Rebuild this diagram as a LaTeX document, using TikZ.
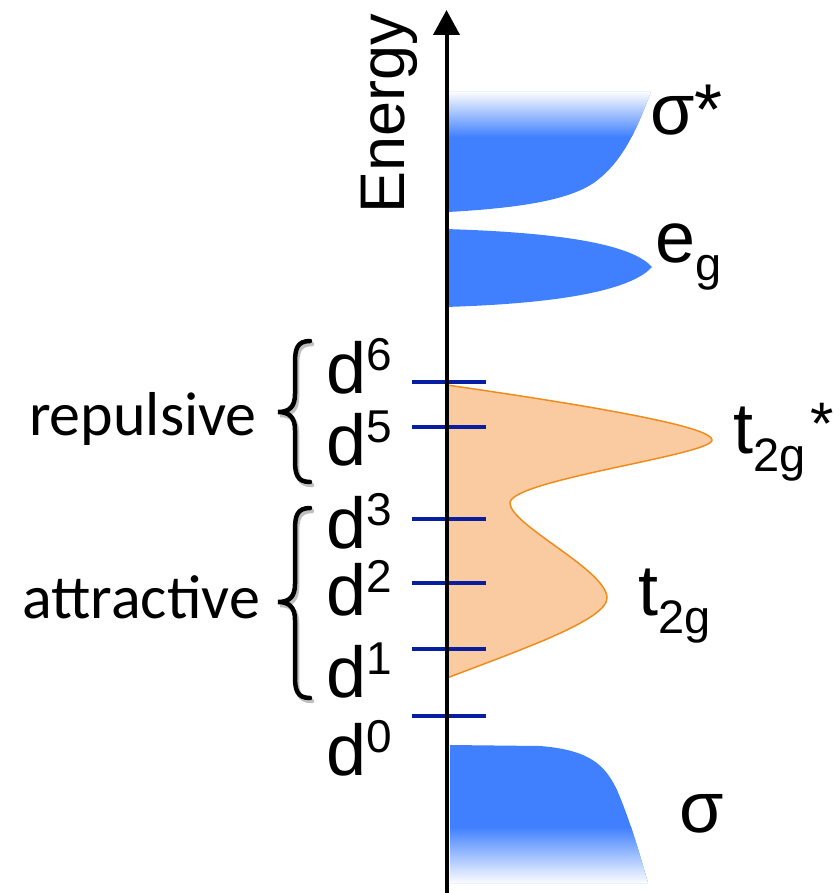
\documentclass[tikz,border=0pt]{standalone}
\usepackage{fontspec}
\setmainfont{Liberation Sans}
\newfontfamily\calibfont{Carlito}
\usetikzlibrary{arrows.meta}
\definecolor{bandblue}{RGB}{64,128,255}
\definecolor{tickblue}{RGB}{8,30,160}
\definecolor{peach}{RGB}{250,203,160}
\definecolor{orangeline}{RGB}{240,140,30}
\newcommand{\suplab}[1]{\raisebox{23pt}{\fontsize{46}{46}\selectfont #1}}
\newcommand{\sublab}[1]{\raisebox{-18pt}{\fontsize{47}{47}\selectfont #1}}
\tikzset{
  lbl/.style={inner sep=0pt, anchor=base west, font=\fontsize{72}{72}\selectfont},
  sidelbl/.style={inner sep=0pt, anchor=base east, font=\calibfont\fontsize{62}{62}\selectfont},
  tickline/.style={draw=tickblue, line width=4pt},
  bracepath/.style={line width=4.5pt, line cap=round},
  braceshadow/.style={line width=4.5pt, line cap=round, draw=black!25},
}
\begin{document}
\begin{tikzpicture}[x=1pt,y=-1pt]
\useasboundingbox (0,0) rectangle (839,893);

% sigma* band
\begin{scope}
  \clip (448,92) -- (651,92) .. controls (638,125) and (625,160) .. (595,182)
        .. controls (570,200) and (520,208) .. (448,212) -- cycle;
  \fill[bandblue] (440,80) rectangle (700,220);
  \shade[top color=white, bottom color=bandblue] (440,91) rectangle (700,137);
\end{scope}

% e_g band
\fill[bandblue] (445,229) .. controls (580,233) and (635,248) .. (652,267)
      .. controls (635,286) and (580,303) .. (445,307) -- cycle;

% sigma band
\begin{scope}
  \clip (450,745) -- (540,746) .. controls (590,750) and (605,765) .. (617,790)
        .. controls (630,820) and (640,855) .. (648,883) -- (450,883) -- cycle;
  \fill[bandblue] (440,740) rectangle (700,890);
  \shade[top color=bandblue, bottom color=white] (440,827) rectangle (700,884);
\end{scope}

% t2g band
\filldraw[fill=peach, draw=orangeline, line width=1.5pt]
  (447,385) .. controls (620,410) and (712,428) .. (712,440)
  .. controls (712,455) and (510,480) .. (510,503)
  .. controls (510,525) and (607,570) .. (607,598)
  .. controls (607,620) and (520,650) .. (447,678) -- cycle;

% ticks
\foreach \yy in {381.7,426.7,519,583.3,649,715.7}
  \draw[tickline] (412,\yy) -- (486,\yy);

% axis
\coordinate (axbot) at (446.5,893);
\coordinate (axtop) at (446.5,10);
\draw[line width=4pt, -{Triangle[width=26pt,length=25pt]}] (axbot) -- (axtop);

% Energy label
\node[inner sep=0pt, anchor=base west, rotate=90, font=\fontsize{63}{63}\selectfont] (energy) at (404,214) {Energy};

% d labels
\node[lbl] (d6) at (326,393) {d\suplab{6}};
\node[lbl] (d5) at (326,465) {d\suplab{5}};
\node[lbl] (d3) at (326,548) {d\suplab{3}};
\node[lbl] (d2) at (326,615) {d\suplab{2}};
\node[lbl] (d1) at (326,697) {d\suplab{1}};
\node[lbl] (d0) at (326,775) {d\suplab{0}};

% band labels
\node[lbl] (sigstar) at (650,135) {σ*};
\node[lbl] (eg) at (655,262) {e\sublab{g}};
\node[lbl] (t2gstar) at (733,453) {t\sublab{2g}};
\node[inner sep=0pt, anchor=base west, font=\fontsize{60}{60}\selectfont] (t2gast) at (810,444) {*};
\node[lbl] (t2g) at (638,615) {t\sublab{2g}};
\node[lbl] (sig) at (679,832) {σ};

% side labels
\node[sidelbl] (rep) at (257,435) {repulsive};
\node[sidelbl] (att) at (260,618) {attractive};

% braces
\foreach \yt/\ym/\yb/\st in {341/412/482/braceshadow, 508/602/698/braceshadow}{
  \draw[\st, xshift=2pt, yshift=-3pt] (310,\yt) .. controls (297,\yt) and (295,\yt+8) .. (295,\yt+22)
     -- (295,\ym-18) .. controls (295,\ym-6) and (290,\ym) .. (278,\ym)
     .. controls (290,\ym) and (295,\ym+6) .. (295,\ym+18)
     -- (295,\yb-22) .. controls (295,\yb-8) and (297,\yb) .. (310,\yb);
}
\foreach \yt/\ym/\yb in {341/412/482, 508/602/698}{
  \draw[bracepath] (310,\yt) .. controls (297,\yt) and (295,\yt+8) .. (295,\yt+22)
     -- (295,\ym-18) .. controls (295,\ym-6) and (290,\ym) .. (278,\ym)
     .. controls (290,\ym) and (295,\ym+6) .. (295,\ym+18)
     -- (295,\yb-22) .. controls (295,\yb-8) and (297,\yb) .. (310,\yb);
}
\end{tikzpicture}
\end{document}
